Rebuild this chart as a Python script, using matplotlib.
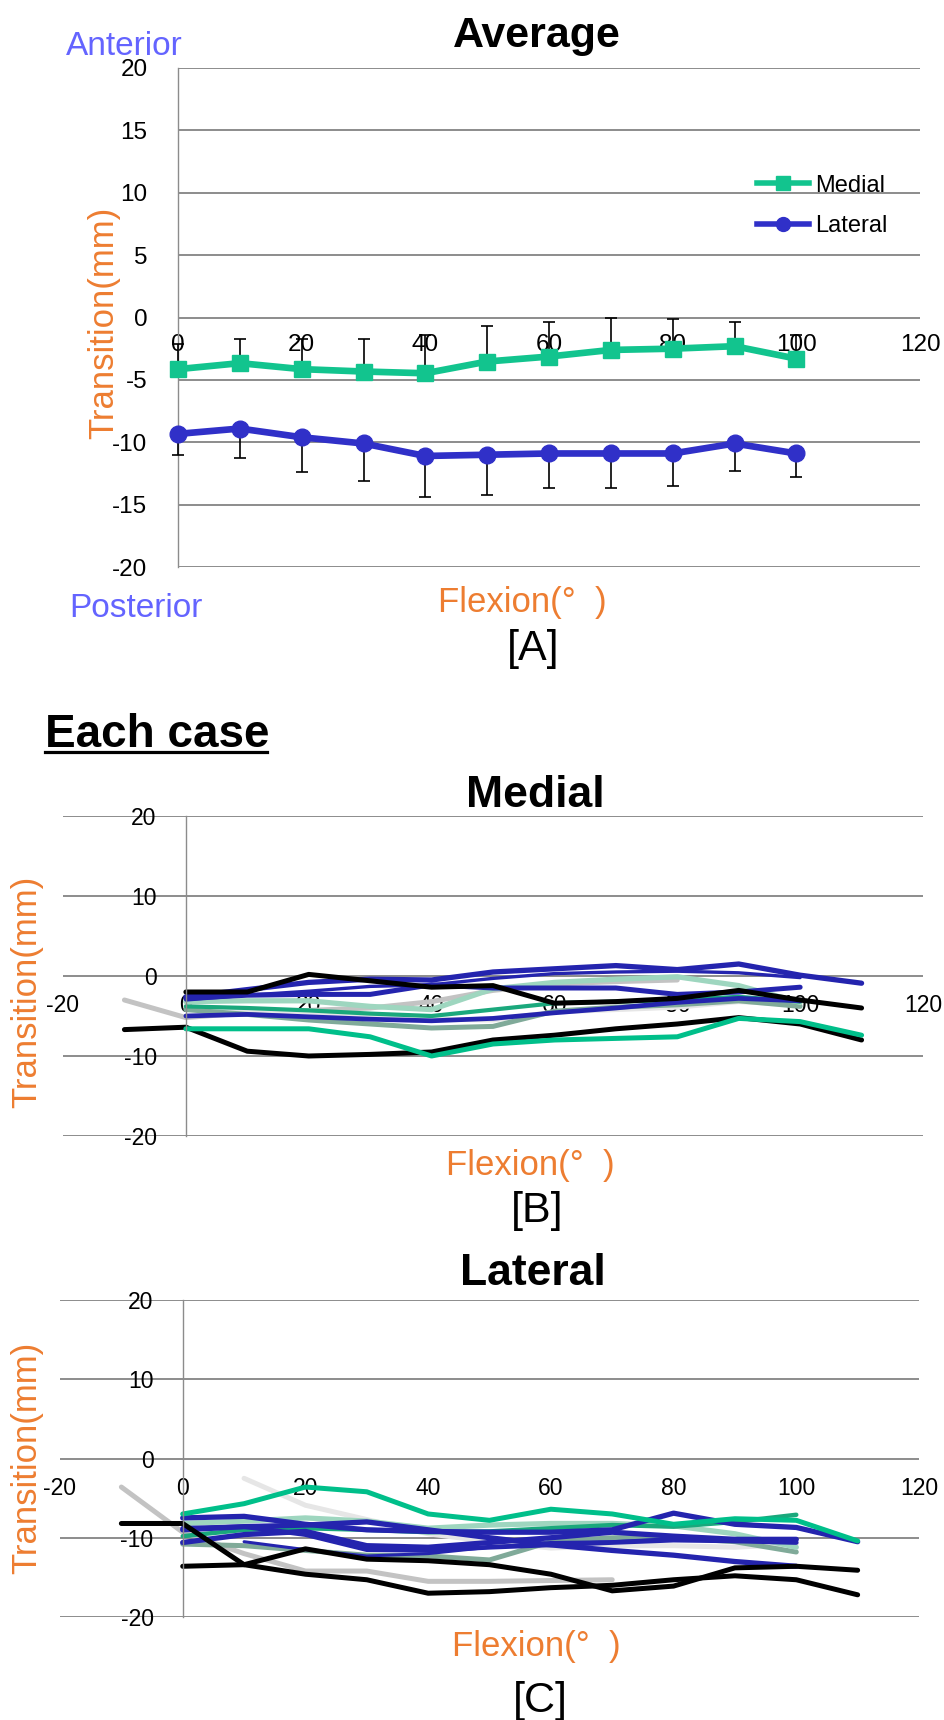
import numpy as np
import matplotlib
matplotlib.use('Agg')
import matplotlib.pyplot as plt
from matplotlib.lines import Line2D

plt.rcParams['font.family'] = ['Liberation Sans', 'DejaVu Sans']
plt.rcParams['axes.unicode_minus'] = False

W, H = 945, 1720

# ---- data: average (panel A)
flex = [0, 10, 20, 30, 40, 50, 60, 70, 80, 90, 100]
medial_mean = [-4.14, -3.66, -4.14, -4.33, -4.47, -3.53, -3.13, -2.6, -2.5, -2.3, -3.3]
medial_sd = [2.0, 1.96, 2.44, 2.63, 3.07, 2.86, 2.73, 2.6, 2.4, 1.9, 1.9]
lateral_mean = [-9.33, -8.9, -9.6, -10.1, -11.1, -11.0, -10.9, -10.9, -10.9, -10.1, -10.9]
lateral_sd = [1.67, 2.4, 2.8, 3.0, 3.3, 3.2, 2.8, 2.8, 2.6, 2.2, 1.9]

# ---- data: each case (panels B, C)
nan = np.nan
flex_cases = [-10, 0, 10, 20, 30, 40, 50, 60, 70, 80, 90, 100, 110]

med_gray = [-3.0, -5.2, -4.6, -4.3, -4.0, -3.2, -1.8, -1.0, -0.7, -0.5, nan, nan, nan]
med_lgray = [nan, -3.8, -4.2, -4.5, -5.0, -5.4, -5.5, -4.5, -4.2, -3.9, -3.2, -3.6, nan]
med_ggreen = [nan, -4.2, -4.8, -5.5, -6.0, -6.5, -6.3, -4.4, -3.9, -3.6, -3.1, -3.8, nan]
med_lteal = [nan, -3.2, -3.1, -3.1, -3.8, -4.2, -1.6, -0.8, -0.4, -0.1, -1.2, -3.3, nan]
med_dgreen = [nan, -3.8, -4.0, -4.3, -4.7, -5.0, -4.2, -3.4, -3.2, -3.0, -2.6, -3.2, nan]
med_black_a = [nan, -2.0, -2.0, 0.2, -0.6, -1.4, -1.2, -3.4, -3.2, -2.8, -1.8, -3.0, -4.0]
med_black_b = [-6.7, -6.4, -9.4, -10.0, -9.8, -9.5, -8.0, -7.4, -6.6, -6.0, -5.2, -6.0, -8.0]
med_teal = [nan, -6.6, -6.6, -6.6, -7.6, -10.0, -8.5, -8.0, -7.8, -7.6, -5.3, -5.7, -7.4]
med_blue_a = [nan, -2.6, -1.7, -0.8, -0.4, -0.5, 0.5, 0.9, 1.3, 0.8, 1.5, 0.1, -0.9]
med_blue_b = [nan, -3.0, -2.4, -1.9, -1.3, -1.1, -0.3, 0.3, 0.5, 0.6, 0.4, -0.2, nan]
med_blue_c = [nan, -2.8, -2.4, -2.3, -2.3, -1.1, -1.5, -1.5, -1.5, -2.3, -2.0, -1.4, nan]
med_blue_d = [nan, -5.0, -4.8, -5.1, -5.4, -5.6, -5.3, -4.6, -4.0, -3.3, -2.8, -3.1, nan]

lat_gray = [-3.6, -9.3, -12.0, -14.2, -14.2, -15.5, -15.5, -15.4, -15.3, nan, nan, nan, nan]
lat_lgray = [nan, nan, -2.5, -5.9, -7.7, -9.5, -10.5, -11.3, -11.0, -11.0, -11.2, -10.8, nan]
lat_ggreen = [nan, -10.8, -11.0, -11.6, -12.2, -12.3, -12.8, -10.5, -10.0, -10.0, -10.5, -11.8, nan]
lat_lteal = [nan, -8.2, -7.9, -7.5, -7.9, -8.8, -8.4, -8.2, -8.2, -8.5, -9.5, -11.2, nan]
lat_dgreen = [nan, -9.8, -9.0, -8.8, -9.0, -9.3, -9.2, -8.8, -8.4, -8.6, -8.0, -7.1, nan]
lat_black_a = [-8.2, -8.2, -13.4, -14.6, -15.3, -17.0, -16.8, -16.3, -16.0, -15.3, -14.8, -15.3, -17.2]
lat_black_b = [nan, -13.6, -13.4, -11.4, -12.7, -12.9, -13.4, -14.6, -16.7, -16.1, -13.8, -13.6, -14.1]
lat_teal = [nan, -7.0, -5.7, -3.6, -4.2, -7.0, -7.8, -6.4, -7.0, -8.3, -7.6, -7.8, -10.4]
lat_blue_a = [nan, -7.5, -7.3, -8.3, -9.0, -9.2, -9.3, -9.3, -9.0, -6.9, -8.3, -8.7, -10.5]
lat_blue_b = [nan, -9.0, -8.6, -8.4, -8.0, -9.0, -10.0, -10.9, -11.6, -12.2, -13.0, -13.6, nan]
lat_blue_c = [nan, -10.6, -9.6, -9.2, -11.0, -11.2, -10.6, -10.0, -9.3, -9.8, -10.2, -10.2, nan]
lat_blue_d = [nan, nan, -10.5, -11.5, -12.3, -12.0, -11.2, -10.6, -10.5, -10.1, -10.5, -10.3, nan]
lat_blue_e = [nan, -8.8, -8.6, -9.6, -11.5, -11.6, -11.2, -10.9, -10.6, -10.3, -10.4, -10.6, nan]

# colours
c_medial = '#12c48e'
c_lateral = '#3030c8'
c_blue = '#2424ae'
c_teal = '#00bf8a'
c_dgreen = '#1aa87c'
c_lteal = '#9ed6bf'
c_ggreen = '#80aa99'
c_gray = '#c3c3c3'
c_lgray = '#e6e6e6'
c_orange = '#ed7d31'
c_side = '#6464ff'
c_grid = '#8c8c8c'

fig = plt.figure(figsize=(W / 100, H / 100), dpi=100)


def ftext(x, y, s, **kw):
    fig.text(x / W, 1 - y / H, s, **kw)


def add_ax(left, top, right, bottom):
    return fig.add_axes([left / W, 1 - bottom / H, (right - left) / W, (bottom - top) / H])


def style(ax, ysize, ypad, xpad):
    ax.spines['top'].set_visible(False)
    ax.spines['right'].set_visible(False)
    ax.spines['bottom'].set_position(('data', 0))
    ax.spines['bottom'].set_visible(False)
    ax.spines['left'].set_color(c_grid)
    ax.spines['left'].set_linewidth(1.0)
    ax.yaxis.grid(True, color=c_grid, lw=1.4)
    ax.set_axisbelow(True)
    ax.tick_params(axis='y', length=0, pad=ypad, labelsize=ysize)
    ax.tick_params(axis='x', length=0, pad=xpad, labelsize=ysize)


# ================= panel A
axA = add_ax(178, 68, 920, 567)
axA.set_xlim(0, 120)
axA.set_ylim(-20, 20)
axA.set_xticks(range(0, 121, 20))
axA.set_yticks(range(-20, 21, 5))
style(axA, 17.5, 22, 12)

zeros = [0] * len(flex)
axA.errorbar(flex, medial_mean, yerr=[zeros, medial_sd], fmt='none', ecolor='black',
             elinewidth=1.2, capsize=4, capthick=1.2, zorder=3, clip_on=False)
axA.errorbar(flex, lateral_mean, yerr=[lateral_sd, zeros], fmt='none', ecolor='black',
             elinewidth=1.2, capsize=4, capthick=1.2, zorder=3, clip_on=False)
axA.plot(flex, medial_mean, color=c_medial, lw=4.8, marker='s', ms=11, zorder=4, clip_on=False)
axA.plot(flex, lateral_mean, color=c_lateral, lw=4.8, marker='o', ms=12, zorder=4, clip_on=False)

handles = [Line2D([], [], color=c_medial, lw=4, marker='s', ms=10),
           Line2D([], [], color=c_lateral, lw=4, marker='o', ms=10)]
fig.legend(handles, ['Medial', 'Lateral'], loc='center left',
           bbox_to_anchor=(757 / W, 1 - 206 / H), frameon=False, fontsize=17,
           handlelength=2.2, handletextpad=0.25, labelspacing=0.8,
           borderpad=0, borderaxespad=0)

ftext(537, 47, 'Average', ha='center', va='baseline', fontsize=31, fontweight='bold')
ftext(66, 55, 'Anterior', ha='left', va='baseline', fontsize=24, color=c_side)
ftext(69, 617, 'Posterior', ha='left', va='baseline', fontsize=24, color=c_side)
ftext(104, 323, 'Transition(mm)', ha='center', va='center', rotation=90, fontsize=25, color=c_orange)
ftext(522, 612, 'Flexion(°  )', ha='center', va='baseline', fontsize=25, color=c_orange)
ftext(533, 660, '[A]', ha='center', va='baseline', fontsize=31)

# ================= "Each case"
ftext(45, 747, 'Each case', ha='left', va='baseline', fontsize=33, fontweight='bold')
fig.add_artist(Line2D([45 / W, 267 / W], [1 - 752 / H, 1 - 752 / H], color='black', lw=2.3))


def draw_cases(ax, series):
    for vals, col, lw in series:
        ax.plot(flex_cases, vals, color=col, lw=lw, solid_capstyle='round', clip_on=False)


def style_case(ax):
    ax.set_xlim(-20, 120)
    ax.set_ylim(-20, 20)
    ax.set_xticks(range(-20, 121, 20))
    ax.set_yticks(range(-20, 21, 10))
    style(ax, 16.5, 21, 13)
    ax.spines['left'].set_position(('data', 0))


# ================= panel B
axB = add_ax(63, 816, 923, 1136)
style_case(axB)
draw_cases(axB, [
    (med_gray, c_gray, 3.6),
    (med_lgray, c_lgray, 3.6),
    (med_ggreen, c_ggreen, 3.6),
    (med_lteal, c_lteal, 3.8),
    (med_dgreen, c_dgreen, 3.0),
    (med_blue_d, c_blue, 3.4),
    (med_blue_c, c_blue, 3.6),
    (med_blue_b, c_blue, 2.4),
    (med_blue_a, c_blue, 3.8),
    (med_black_a, 'black', 3.6),
    (med_black_b, 'black', 3.6),
    (med_teal, c_teal, 3.6),
])
ftext(535, 807, 'Medial', ha='center', va='baseline', fontsize=32, fontweight='bold')
ftext(27, 992, 'Transition(mm)', ha='center', va='center', rotation=90, fontsize=25, color=c_orange)
ftext(530, 1175, 'Flexion(°  )', ha='center', va='baseline', fontsize=25, color=c_orange)
ftext(537, 1222, '[B]', ha='center', va='baseline', fontsize=31)

# ================= panel C
axC = add_ax(60, 1300, 919, 1617)
style_case(axC)
draw_cases(axC, [
    (lat_gray, c_gray, 3.6),
    (lat_lgray, c_lgray, 3.6),
    (lat_ggreen, c_ggreen, 3.6),
    (lat_lteal, c_lteal, 3.8),
    (lat_dgreen, c_dgreen, 3.2),
    (lat_blue_e, c_blue, 3.4),
    (lat_blue_d, c_blue, 2.2),
    (lat_blue_c, c_blue, 3.8),
    (lat_blue_b, c_blue, 3.8),
    (lat_blue_a, c_blue, 3.8),
    (lat_black_a, 'black', 3.6),
    (lat_black_b, 'black', 3.6),
    (lat_teal, c_teal, 3.6),
])
ftext(533, 1285, 'Lateral', ha='center', va='baseline', fontsize=32, fontweight='bold')
ftext(27, 1458, 'Transition(mm)', ha='center', va='center', rotation=90, fontsize=25, color=c_orange)
ftext(536, 1656, 'Flexion(°  )', ha='center', va='baseline', fontsize=25, color=c_orange)
ftext(540, 1712, '[C]', ha='center', va='baseline', fontsize=31)

fig.savefig('out.png', dpi=100)
